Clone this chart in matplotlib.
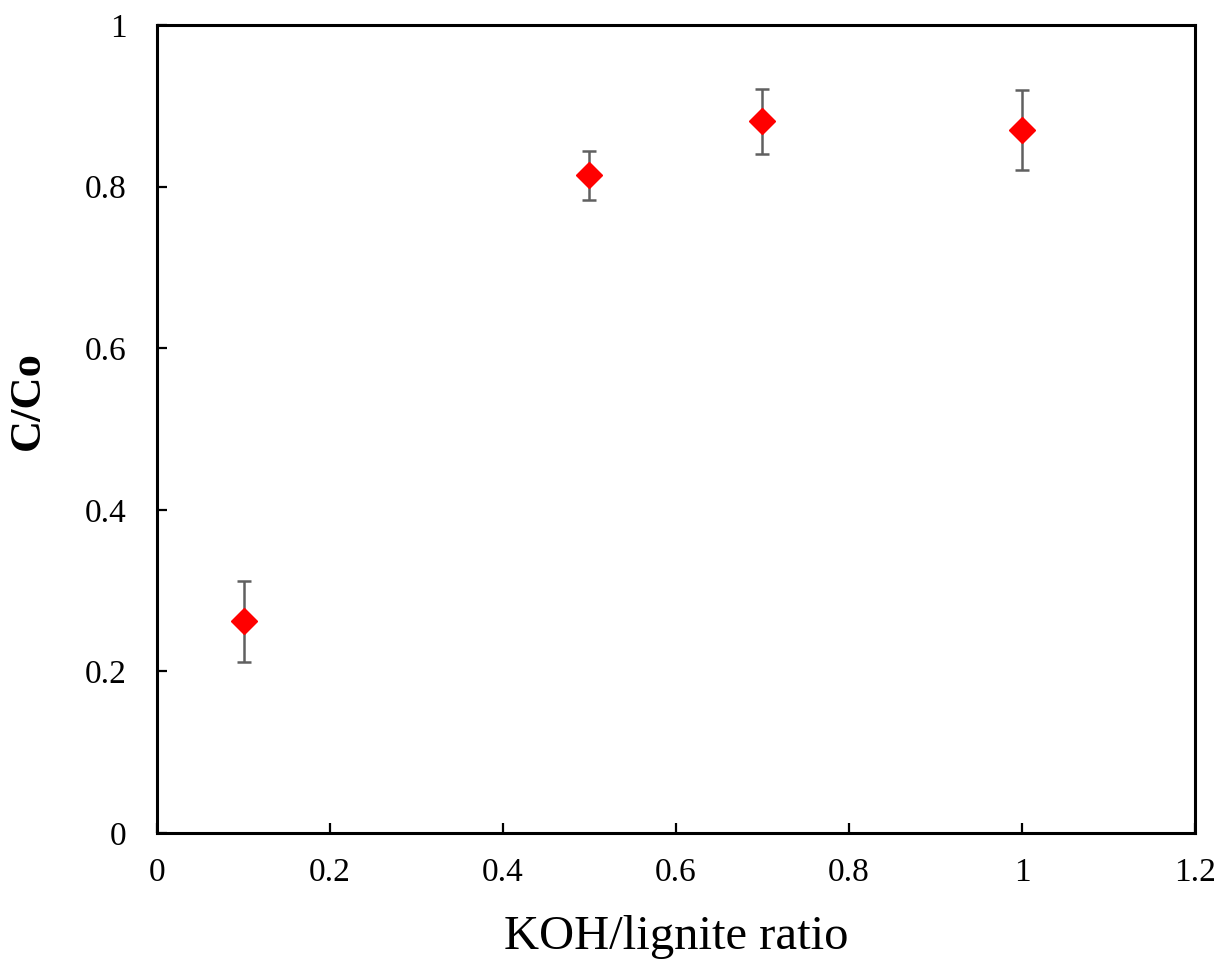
import matplotlib.pyplot as plt

# KOH/lignite ratio vs C/Co
ratio = [0.1, 0.5, 0.7, 1.0]
c_co = [0.262, 0.814, 0.881, 0.870]
err = [0.050, 0.030, 0.040, 0.050]

plt.rcParams['font.family'] = ['Liberation Serif', 'DejaVu Serif']

fig = plt.figure(figsize=(12.19, 9.64), dpi=100)
ax = fig.add_axes([0.1288, 0.1359, 0.8515, 0.8381])

ax.errorbar(ratio, c_co, yerr=err, fmt='D', color='red', markersize=13,
            ecolor='#606060', elinewidth=1.8, capsize=5, capthick=1.8, zorder=3)

ax.set_xlim(0, 1.2)
ax.set_ylim(0, 1)
ax.set_xticks([0, 0.2, 0.4, 0.6, 0.8, 1.0, 1.2])
ax.set_xticklabels(['0', '0.2', '0.4', '0.6', '0.8', '1', '1.2'])
ax.set_yticks([0, 0.2, 0.4, 0.6, 0.8, 1.0])
ax.set_yticklabels(['0', '0.2', '0.4', '0.6', '0.8', '1'])

for s in ax.spines.values():
    s.set_linewidth(2.2)
ax.tick_params(direction='in', length=7, width=1.6, labelsize=24, pad=18)
ax.tick_params(axis='y', pad=22)

ax.set_xlabel('KOH/lignite ratio', fontsize=35, labelpad=19)
ax.set_ylabel('C/Co', fontsize=32, fontweight='bold')
ax.yaxis.set_label_coords(-0.105, 0.535)

plt.savefig('out.png', dpi=100)
